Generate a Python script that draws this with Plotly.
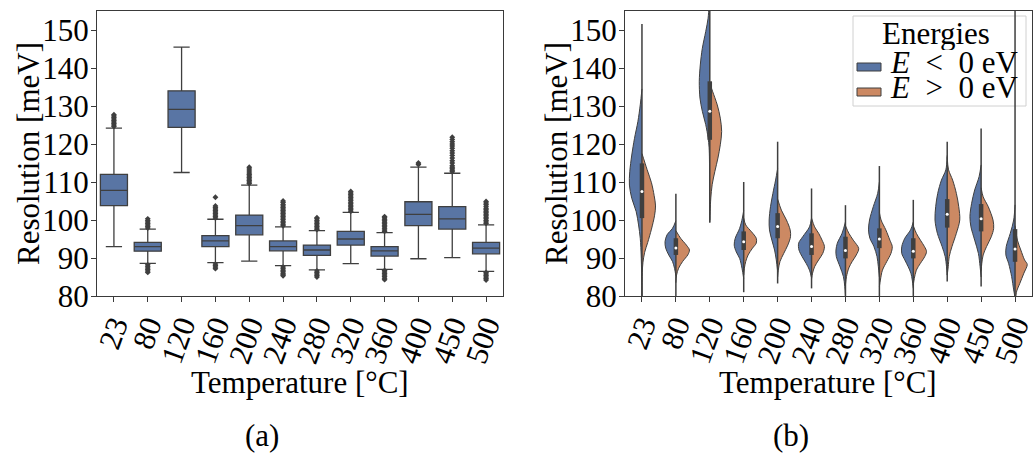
import plotly.graph_objects as go

W, H = 1034, 455
temps = ["23", "80", "120", "160", "200", "240", "280", "320", "360", "400", "450", "500"]
res_ticks = [80, 90, 100, 110, 120, 130, 140, 150]

# ---------- (a) box-plot statistics [meV] ----------
box_q1 = [103.8, 91.8, 124.4, 93.0, 96.1, 91.9, 90.7, 93.4, 90.5, 98.5, 97.6, 91.1]
box_med = [107.8, 93.0, 129.1, 94.5, 98.5, 93.0, 92.1, 95.0, 91.9, 101.5, 100.3, 92.6]
box_q3 = [112.0, 94.1, 134.0, 95.9, 101.3, 94.5, 93.4, 97.0, 93.0, 104.8, 103.5, 94.1]
box_lo = [93.0, 88.6, 112.5, 88.8, 89.2, 88.0, 86.9, 88.5, 87.0, 89.8, 90.1, 86.5]
box_hi = [124.2, 97.6, 145.5, 100.2, 109.2, 98.2, 97.2, 102.0, 96.7, 113.9, 112.3, 98.7]
box_outliers = [
    [124.6, 125.0, 125.4, 125.8, 126.2, 126.6, 127.0, 127.4, 127.7],
    [97.9, 98.3, 98.7, 99.1, 99.5, 99.9, 100.3, 88.2, 87.8, 87.4, 87.0, 86.6, 86.2],
    [],
    [100.5, 100.9, 101.3, 101.7, 102.1, 102.5, 102.9, 103.3, 103.7, 106.0, 88.4, 88.0, 87.6, 87.2],
    [109.6, 110.0, 110.4, 110.8, 111.2, 111.6, 112.0, 112.4, 112.9, 113.4, 113.9],
    [98.5, 98.9, 99.3, 99.7, 100.1, 100.5, 100.9, 101.3, 101.7, 102.1, 102.5, 102.9, 103.3,
     103.7, 104.1, 104.6, 105.0, 87.6, 87.2, 86.8, 86.4, 86.0, 85.6, 85.3],
    [97.5, 97.9, 98.3, 98.7, 99.1, 99.5, 99.9, 100.3, 100.6, 86.6, 86.2, 85.8, 85.4, 85.0],
    [102.3, 102.7, 103.1, 103.5, 103.9, 104.3, 104.7, 105.1, 105.5, 105.9, 106.3, 106.7,
     107.1, 107.5],
    [97.0, 97.4, 97.8, 98.2, 98.6, 99.0, 99.4, 99.8, 100.2, 100.6, 100.9, 86.7, 86.3, 85.9,
     85.5, 85.1, 84.7, 84.3],
    [114.6, 115.0],
    [112.7, 113.1, 113.5, 113.9, 114.3, 115.0, 115.6, 116.3, 117.0, 117.6, 118.2, 118.9,
     119.5, 120.0, 120.6, 121.2, 121.8],
    [99.1, 99.5, 99.9, 100.3, 100.7, 101.1, 101.5, 101.9, 102.3, 102.7, 103.1, 103.6, 104.1,
     104.5, 104.9, 86.2, 85.8, 85.4, 85.0, 84.6, 84.2],
]

# ---------- (b) split violins: density half-widths (fraction of category spacing) ----------
vio_neg_res = [
    [134.5, 130.3, 125.9, 121.5, 117.1, 112.7, 109.2, 105.7, 102.2, 98.7, 95.2, 89.9, 79.0],
    [99.8, 97.8, 96.1, 94.3, 92.6, 90.8, 89.1, 87.3, 85.3],
    [157.0, 153.1, 149.6, 145.2, 140.8, 136.5, 132.1, 128.6, 125.1, 121.6, 119.0, 112.0, 100.0],
    [102.5, 100.5, 97.8, 95.2, 93.4, 91.6, 89.9, 87.3, 84.6],
    [113.5, 110.5, 107.0, 103.5, 100.0, 97.4, 94.7, 92.1, 89.5, 86.5],
    [100.5, 98.2, 95.6, 93.9, 92.1, 90.4, 88.6, 86.8, 84.8],
    [99.5, 96.5, 93.9, 92.1, 90.4, 87.7, 85.1, 82.5, 80.0],
    [110.0, 107.0, 103.5, 100.0, 97.4, 95.2, 93.0, 90.4, 87.7, 85.0],
    [99.5, 97.4, 95.2, 93.0, 91.2, 89.5, 87.7, 86.0, 84.2, 82.0],
    [117.0, 113.2, 110.5, 107.0, 103.5, 100.0, 96.5, 93.0, 90.4, 87.7, 85.5],
    [114.5, 111.4, 107.9, 104.4, 100.9, 98.2, 94.7, 91.2, 87.7, 85.0],
    [104.0, 100.0, 96.5, 93.0, 90.8, 88.6, 85.1, 81.6, 80.0, 78.0],
]
vio_neg_w = [
    [0.0, 0.05, 0.12, 0.22, 0.30, 0.36, 0.37, 0.30, 0.17, 0.10, 0.05, 0.02, 0.0],
    [0.0, 0.10, 0.26, 0.32, 0.30, 0.21, 0.10, 0.04, 0.0],
    [0.02, 0.05, 0.12, 0.22, 0.28, 0.31, 0.29, 0.22, 0.12, 0.05, 0.02, 0.005, 0.0],
    [0.0, 0.04, 0.12, 0.25, 0.28, 0.22, 0.12, 0.05, 0.0],
    [0.0, 0.06, 0.14, 0.21, 0.25, 0.24, 0.17, 0.09, 0.04, 0.0],
    [0.0, 0.06, 0.26, 0.38, 0.37, 0.28, 0.16, 0.06, 0.0],
    [0.0, 0.10, 0.24, 0.28, 0.27, 0.16, 0.06, 0.02, 0.0],
    [0.0, 0.05, 0.18, 0.29, 0.32, 0.28, 0.16, 0.07, 0.03, 0.0],
    [0.0, 0.08, 0.25, 0.34, 0.34, 0.25, 0.15, 0.07, 0.03, 0.0],
    [0.0, 0.04, 0.17, 0.28, 0.34, 0.36, 0.29, 0.15, 0.06, 0.02, 0.0],
    [0.0, 0.06, 0.19, 0.28, 0.33, 0.30, 0.19, 0.08, 0.03, 0.0],
    [0.0, 0.04, 0.14, 0.26, 0.27, 0.19, 0.10, 0.04, 0.01, 0.0],
]
vio_pos_res = [
    [117.5, 113.3, 109.8, 106.4, 103.7, 101.1, 97.6, 94.1, 91.5, 88.9, 86.2, 79.0],
    [97.2, 95.2, 93.4, 92.1, 90.8, 89.1, 87.3, 85.5, 83.5],
    [136.0, 133.9, 130.3, 126.8, 123.3, 119.8, 116.3, 112.8, 109.3, 105.8, 102.3, 99.5],
    [100.5, 98.7, 96.9, 95.2, 93.9, 92.6, 90.8, 89.1, 87.3, 85.5],
    [105.5, 102.6, 100.0, 97.4, 95.6, 93.4, 91.2, 89.1, 86.8, 85.0],
    [100.5, 98.2, 96.5, 94.7, 93.0, 91.2, 89.5, 87.7, 86.0, 84.5],
    [98.5, 96.5, 94.7, 92.5, 90.8, 89.1, 87.4, 85.1, 83.0],
    [102.0, 100.0, 97.4, 94.7, 93.0, 91.2, 89.1, 86.8, 84.2, 82.5],
    [98.5, 96.5, 94.7, 93.0, 91.7, 90.4, 88.6, 86.8, 84.6, 83.0],
    [116.5, 113.2, 110.5, 107.0, 103.5, 100.0, 96.5, 93.0, 90.4, 87.7, 85.5],
    [108.5, 106.1, 103.5, 100.0, 97.8, 95.6, 93.0, 90.8, 88.6, 86.5],
    [98.5, 94.7, 92.1, 89.5, 88.3, 86.0, 83.3, 81.0, 79.0, 77.0],
]
vio_pos_w = [
    [0.0, 0.15, 0.28, 0.36, 0.40, 0.37, 0.28, 0.17, 0.08, 0.03, 0.01, 0.0],
    [0.0, 0.14, 0.31, 0.40, 0.35, 0.20, 0.08, 0.02, 0.0],
    [0.0, 0.08, 0.22, 0.31, 0.35, 0.31, 0.24, 0.15, 0.07, 0.03, 0.01, 0.0],
    [0.0, 0.06, 0.23, 0.37, 0.37, 0.26, 0.13, 0.06, 0.02, 0.0],
    [0.0, 0.11, 0.26, 0.37, 0.38, 0.30, 0.18, 0.07, 0.02, 0.0],
    [0.0, 0.09, 0.21, 0.31, 0.38, 0.33, 0.21, 0.09, 0.03, 0.0],
    [0.0, 0.10, 0.23, 0.39, 0.32, 0.20, 0.10, 0.03, 0.0],
    [0.0, 0.05, 0.19, 0.31, 0.38, 0.34, 0.22, 0.09, 0.03, 0.0],
    [0.0, 0.09, 0.21, 0.33, 0.39, 0.34, 0.21, 0.09, 0.03, 0.0],
    [0.0, 0.04, 0.16, 0.27, 0.34, 0.37, 0.27, 0.14, 0.06, 0.03, 0.0],
    [0.0, 0.06, 0.21, 0.35, 0.37, 0.30, 0.16, 0.06, 0.02, 0.0],
    [0.0, 0.07, 0.17, 0.28, 0.36, 0.26, 0.14, 0.04, 0.02, 0.0],
]
# inner box of the violins (combined data)
vio_q1 = [100.5, 90.8, 121.1, 92.1, 95.2, 90.8, 89.9, 92.6, 89.9, 98.0, 97.0, 89.0]
vio_med = [107.5, 92.6, 128.6, 94.3, 98.3, 93.0, 92.0, 95.0, 91.8, 101.5, 100.3, 92.4]
vio_q3 = [114.9, 95.2, 136.5, 97.0, 101.8, 96.5, 95.6, 97.8, 95.2, 105.5, 104.2, 97.6]
vio_lo = [79.0, 79.0, 99.3, 81.0, 83.3, 82.0, 79.0, 79.0, 79.0, 83.8, 82.5, 79.0]
vio_hi = [151.6, 106.9, 157.0, 110.0, 120.6, 108.3, 103.9, 114.2, 105.3, 120.6, 124.1, 157.0]

BLUE = "#5975a4"
ORANGE = "#cc8963"
DARK = "#3f3f3f"
AXC = "#3a3a3a"
FONT = "Liberation Serif"
FS = 31

idx = list(range(len(temps)))
fig = go.Figure()

# (a) boxes
fig.add_trace(go.Box(
    x=idx, q1=box_q1, median=box_med, q3=box_q3, lowerfence=box_lo, upperfence=box_hi,
    width=0.8, whiskerwidth=0.6, fillcolor=BLUE, line=dict(color=DARK, width=1.3),
    boxpoints=False, showlegend=False, xaxis="x", yaxis="y", hoverinfo="skip"))
ox, oy = [], []
for i, vals in enumerate(box_outliers):
    ox += [i] * len(vals)
    oy += vals
fig.add_trace(go.Scatter(
    x=ox, y=oy, mode="markers", marker=dict(symbol="diamond", size=4.5, color=DARK),
    showlegend=False, xaxis="x", yaxis="y", hoverinfo="skip"))

# (b) split violins
for i in idx:
    for res, wid, sgn, col in ((vio_neg_res[i], vio_neg_w[i], -1, BLUE),
                               (vio_pos_res[i], vio_pos_w[i], 1, ORANGE)):
        fig.add_trace(go.Scatter(
            x=[i, i], y=[res[0], res[-1]], mode="lines", line=dict(width=0, color=col),
            showlegend=False, xaxis="x2", yaxis="y2", hoverinfo="skip"))
        fig.add_trace(go.Scatter(
            x=[i + sgn * w for w in wid], y=res, mode="lines",
            line=dict(color=DARK, width=1, shape="spline", smoothing=0.9),
            fill="tonextx", fillcolor=col, showlegend=False,
            xaxis="x2", yaxis="y2", hoverinfo="skip"))

wx, wy, bx, by = [], [], [], []
for i in idx:
    wx += [i, i, None]
    wy += [vio_lo[i], vio_hi[i], None]
    bx += [i, i, None]
    by += [vio_q1[i], vio_q3[i], None]
fig.add_trace(go.Scatter(x=wx, y=wy, mode="lines", line=dict(color=DARK, width=1.5),
                         showlegend=False, xaxis="x2", yaxis="y2", hoverinfo="skip"))
fig.add_trace(go.Scatter(x=bx, y=by, mode="lines", line=dict(color=DARK, width=4.5),
                         showlegend=False, xaxis="x2", yaxis="y2", hoverinfo="skip"))
fig.add_trace(go.Scatter(x=idx, y=vio_med, mode="markers",
                         marker=dict(color="white", size=3),
                         showlegend=False, xaxis="x2", yaxis="y2", hoverinfo="skip"))

ydom = [1 - 296 / H, 1 - 11 / H]
axis_common = dict(showline=True, mirror=True, linecolor=AXC, linewidth=1.3,
                   ticks="outside", ticklen=5, tickwidth=1.3, tickcolor=AXC,
                   showgrid=False, zeroline=False, automargin=False,
                   ticklabeloverflow="allow",
                   tickfont=dict(family=FONT, size=FS, color="black"))
fig.update_layout(
    template="none",
    width=W, height=H, margin=dict(l=0, r=0, t=0, b=0, pad=0),
    paper_bgcolor="white", plot_bgcolor="white", showlegend=False,
    xaxis=dict(domain=[97 / W, 503 / W], range=[-0.5, 11.5], tickvals=idx, ticktext=temps,
               tickangle=-70, ticklabelstandoff=-7, anchor="y", **axis_common),
    yaxis=dict(domain=ydom, range=[80, 155], tickvals=res_ticks, ticklabelstandoff=-4,
               anchor="x", **axis_common),
    xaxis2=dict(domain=[625 / W, 1032 / W], range=[-0.5, 11.5], tickvals=idx, ticktext=temps,
                tickangle=-70, ticklabelstandoff=-7, anchor="y2", **axis_common),
    yaxis2=dict(domain=ydom, range=[80, 155], tickvals=res_ticks, ticklabelstandoff=-4,
                anchor="x2", **axis_common),
)

def px(xp):
    return xp / W

def py(yp):
    return 1 - yp / H

ann = []
def txt(s, x, y, xanchor="center", angle=0, size=FS, yanchor="middle", height=None):
    a = dict(text=s, x=px(x), y=py(y), xref="paper", yref="paper", showarrow=False,
             xanchor=xanchor, yanchor=yanchor, textangle=angle,
             font=dict(family=FONT, size=size, color="black"))
    if height is not None:
        a["height"] = height
    ann.append(a)

txt("Temperature [°C]", 300, 382)
txt("Temperature [°C]", 828, 382)
txt("Resolution [meV]", 28, 154, angle=-90)
txt("Resolution [meV]", 556, 154, angle=-90)
txt("(a)", 262, 455, yanchor="bottom")
txt("(b)", 791, 455, yanchor="bottom")
# legend
txt("Energies", 936, 33, height=34)
txt("<i>E</i>&nbsp;&nbsp;&lt;&nbsp;&nbsp;0&nbsp;eV", 888, 62, xanchor="left", height=24)
txt("<i>E</i>&nbsp;&nbsp;&gt;&nbsp;&nbsp;0&nbsp;eV", 888, 87, xanchor="left", height=24)

shapes = [
    dict(type="rect", xref="paper", yref="paper", x0=px(853), x1=px(1026), y0=py(106), y1=py(16),
         line=dict(color="#d0d0d0", width=1), fillcolor="rgba(255,255,255,0.85)", layer="below"),
    dict(type="rect", xref="paper", yref="paper", x0=px(857), x1=px(881), y0=py(71), y1=py(63),
         line=dict(color=DARK, width=1), fillcolor=BLUE, layer="above"),
    dict(type="rect", xref="paper", yref="paper", x0=px(857), x1=px(881), y0=py(96), y1=py(88),
         line=dict(color=DARK, width=1), fillcolor=ORANGE, layer="above"),
]
fig.update_layout(annotations=ann, shapes=shapes)
fig.write_html("out.html", config={"displayModeBar": False},
               post_script="document.body.style.margin='0px';document.body.style.overflow='hidden';")
